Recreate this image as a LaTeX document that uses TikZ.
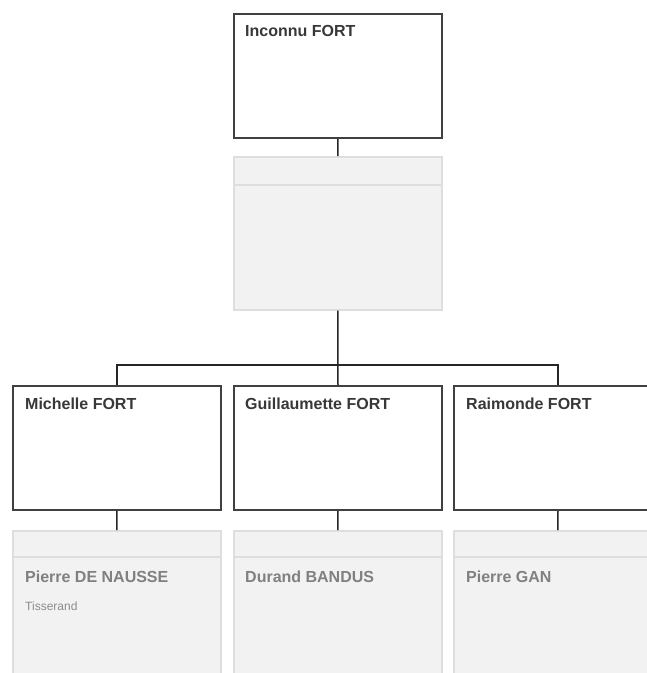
\documentclass[tikz,border=0pt]{standalone}
\usepackage{fontspec}
\setmainfont{Liberation Sans}
\begin{document}
\begin{tikzpicture}[x=1pt,y=-1pt,
  person/.style={draw=black!75, line width=2pt, fill=white, inner sep=0pt,
    anchor=north west, minimum width=208pt, minimum height=124pt},
  family/.style={draw=black!13, line width=1.5pt, fill=black!5, inner sep=0pt,
    anchor=north west, minimum width=208pt},
  conn/.style={draw=black!85, line width=1.5pt},
  hdr/.style={draw=black!13, line width=1.5pt},
  pname/.style={anchor=base west, inner sep=0pt, text=black!78,
    font=\fontsize{16}{18}\selectfont\bfseries},
  sname/.style={anchor=base west, inner sep=0pt, text=black!50,
    font=\fontsize{16}{18}\selectfont\bfseries},
  job/.style={anchor=base west, inner sep=0pt, text=black!45,
    font=\fontsize{12}{14}\selectfont}]
\useasboundingbox (0,0) rectangle (647,673);
\clip (0,0) rectangle (647,673);
% top person
\node[person] (top) at (233,13) {};
\node[pname] (topn) at (245,36) {Inconnu FORT};
% family box
\node[family, minimum height=153pt] (fam) at (233,156) {};
\coordinate (famh) at (233,185);
\draw[hdr] (famh) -- ++(208,0);
\draw[conn] (top.south) -- (fam.north);
% children
\node[person] (c1) at (12,385) {};
\node[person] (c2) at (233,385) {};
\node[person] (c3) at (453,385) {};
\node[pname] (c1n) at (25,409) {Michelle FORT};
\node[pname] (c2n) at (245,409) {Guillaumette FORT};
\node[pname] (c3n) at (466,409) {Raimonde FORT};
\coordinate (bus) at (337,365);
\draw[conn] (fam.south) -- (c2.north);
\draw[conn] (c1.north) |- (bus) -| (c3.north);
% spouse boxes
\node[family, minimum height=160pt] (s1) at (12,530) {};
\node[family, minimum height=160pt] (s2) at (233,530) {};
\node[family, minimum height=160pt] (s3) at (453,530) {};
\coordinate (s1h) at (12,557);
\coordinate (s2h) at (233,557);
\coordinate (s3h) at (453,557);
\draw[hdr] (s1h) -- ++(208,0);
\draw[hdr] (s2h) -- ++(208,0);
\draw[hdr] (s3h) -- ++(208,0);
\draw[conn] (c1.south) -- (s1.north);
\draw[conn] (c2.south) -- (s2.north);
\draw[conn] (c3.south) -- (s3.north);
\node[sname] (s1n) at (25,582) {Pierre DE NAUSSE};
\node[job] (s1j) at (25,610) {Tisserand};
\node[sname] (s2n) at (245,582) {Durand BANDUS};
\node[sname] (s3n) at (466,582) {Pierre GAN};
\end{tikzpicture}
\end{document}
